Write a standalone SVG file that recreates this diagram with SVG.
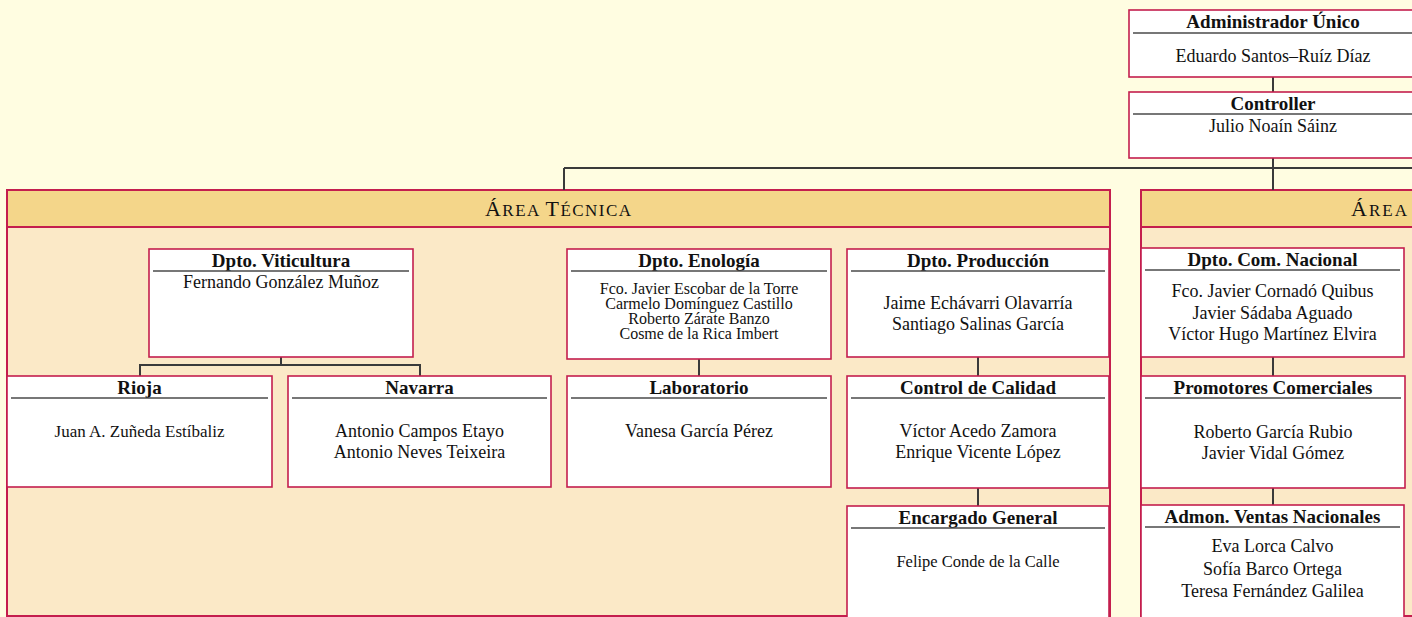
<svg xmlns="http://www.w3.org/2000/svg" width="1412" height="617" viewBox="0 0 1412 617">
<style>
.area{fill:#fbe9c7;stroke:#c41e4e;stroke-width:2}
.ahead{fill:#f4d68a;stroke:#c41e4e;stroke-width:2}
.box{fill:#ffffff;stroke:#c41e4e;stroke-width:1.6}
.rule{stroke:#4a4a4a;stroke-width:1.6}
.conn{stroke:#3a3a3a;stroke-width:2;fill:none}
text{font-family:"Liberation Serif","Times New Roman",serif;fill:#111;text-anchor:middle}
.t{font-weight:bold;font-size:19px}
.n{font-size:18px}
.c{font-size:16px}
.ah{font-size:17px}
.ah .big{font-size:22px}
</style>
<rect x="0" y="0" width="1412" height="617" fill="#fffde1"/>

<g id="area-tecnica">
<rect class="area" x="7" y="190" width="1103" height="426"/>
<rect class="ahead" x="7" y="190" width="1103" height="37"/>
<text class="ah" x="558" y="216" textLength="146"><tspan class="big">Á</tspan>REA <tspan class="big">T</tspan>ÉCNICA</text>
</g>
<g id="area-comercial">
<rect class="area" x="1141" y="190" width="290" height="426"/>
<rect class="ahead" x="1141" y="190" width="290" height="37"/>
<text class="ah" x="1351" y="216" style="text-anchor:start" textLength="56"><tspan class="big">Á</tspan>REA</text>
</g>

<g id="connectors">
<path class="conn" d="M1273 77V92M1273 158V190M564 168H1412M564 168V190"/>
<path class="conn" d="M281 357V365M140 376V365H420V376"/>
<path class="conn" d="M699 359V376M978 357V376M978 488V506M1273 357V376M1273 488V505"/>
</g>

<g id="administrador">
<rect class="box" x="1129" y="10" width="300" height="67"/>
<text class="t" x="1273" y="28">Administrador Único</text>
<line class="rule" x1="1133" y1="33" x2="1412" y2="33"/>
<text class="n" x="1273" y="62">Eduardo Santos–Ruíz Díaz</text>
</g>
<g id="controller">
<rect class="box" x="1129" y="92" width="300" height="66"/>
<text class="t" x="1273" y="110">Controller</text>
<line class="rule" x1="1133" y1="114" x2="1412" y2="114"/>
<text class="n" x="1273" y="132">Julio Noaín Sáinz</text>
</g>

<g id="viticultura">
<rect class="box" x="149" y="249" width="264" height="108"/>
<text class="t" x="281" y="267">Dpto. Viticultura</text>
<line class="rule" x1="153" y1="271" x2="409" y2="271"/>
<text class="n" x="281" y="288">Fernando González Muñoz</text>
</g>
<g id="rioja">
<rect class="box" x="7" y="376" width="265" height="111"/>
<text class="t" x="139.5" y="394">Rioja</text>
<line class="rule" x1="11" y1="398" x2="268" y2="398"/>
<text class="n" x="139.5" y="437" style="font-size:17px">Juan A. Zuñeda Estíbaliz</text>
</g>
<g id="navarra">
<rect class="box" x="288" y="376" width="263" height="111"/>
<text class="t" x="419.5" y="394">Navarra</text>
<line class="rule" x1="292" y1="398" x2="547" y2="398"/>
<text class="n" x="419.5" y="437">Antonio Campos Etayo</text>
<text class="n" x="419.5" y="458">Antonio Neves Teixeira</text>
</g>
<g id="enologia">
<rect class="box" x="567" y="249" width="264" height="110"/>
<text class="t" x="699" y="267">Dpto. Enología</text>
<line class="rule" x1="571" y1="271" x2="827" y2="271"/>
<text class="c" x="699" y="294">Fco. Javier Escobar de la Torre</text>
<text class="c" x="699" y="309">Carmelo Domínguez Castillo</text>
<text class="c" x="699" y="324">Roberto Zárate Banzo</text>
<text class="c" x="699" y="339">Cosme de la Rica Imbert</text>
</g>
<g id="laboratorio">
<rect class="box" x="567" y="376" width="264" height="111"/>
<text class="t" x="699" y="394">Laboratorio</text>
<line class="rule" x1="571" y1="398" x2="827" y2="398"/>
<text class="n" x="699" y="437">Vanesa García Pérez</text>
</g>
<g id="produccion">
<rect class="box" x="847" y="249" width="262" height="108"/>
<text class="t" x="978" y="267">Dpto. Producción</text>
<line class="rule" x1="851" y1="271" x2="1105" y2="271"/>
<text class="n" x="978" y="309">Jaime Echávarri Olavarría</text>
<text class="n" x="978" y="330">Santiago Salinas García</text>
</g>
<g id="control-calidad">
<rect class="box" x="847" y="376" width="262" height="112"/>
<text class="t" x="978" y="394">Control de Calidad</text>
<line class="rule" x1="851" y1="398" x2="1105" y2="398"/>
<text class="n" x="978" y="437">Víctor Acedo Zamora</text>
<text class="n" x="978" y="458">Enrique Vicente López</text>
</g>
<g id="encargado">
<rect class="box" x="847" y="506" width="262" height="120"/>
<text class="t" x="978" y="524">Encargado General</text>
<line class="rule" x1="851" y1="528" x2="1105" y2="528"/>
<text class="c" x="978" y="567" style="font-size:16.5px">Felipe Conde de la Calle</text>
</g>
<g id="com-nacional">
<rect class="box" x="1141" y="248" width="263" height="109"/>
<text class="t" x="1272.5" y="266">Dpto. Com. Nacional</text>
<line class="rule" x1="1145" y1="270" x2="1400" y2="270"/>
<text class="n" x="1272.5" y="297">Fco. Javier Cornadó Quibus</text>
<text class="n" x="1272.5" y="319">Javier Sádaba Aguado</text>
<text class="n" x="1272.5" y="340">Víctor Hugo Martínez Elvira</text>
</g>
<g id="promotores">
<rect class="box" x="1141" y="376" width="264" height="112"/>
<text class="t" x="1273" y="394">Promotores Comerciales</text>
<line class="rule" x1="1145" y1="398" x2="1401" y2="398"/>
<text class="n" x="1273" y="438">Roberto García Rubio</text>
<text class="n" x="1273" y="459">Javier Vidal Gómez</text>
</g>
<g id="admon-ventas">
<rect class="box" x="1141" y="505" width="263" height="120"/>
<text class="t" x="1272.5" y="523">Admon. Ventas Nacionales</text>
<line class="rule" x1="1145" y1="527" x2="1400" y2="527"/>
<text class="n" x="1272.5" y="552">Eva Lorca Calvo</text>
<text class="n" x="1272.5" y="575">Sofía Barco Ortega</text>
<text class="n" x="1272.5" y="597">Teresa Fernández Galilea</text>
</g>
</svg>
